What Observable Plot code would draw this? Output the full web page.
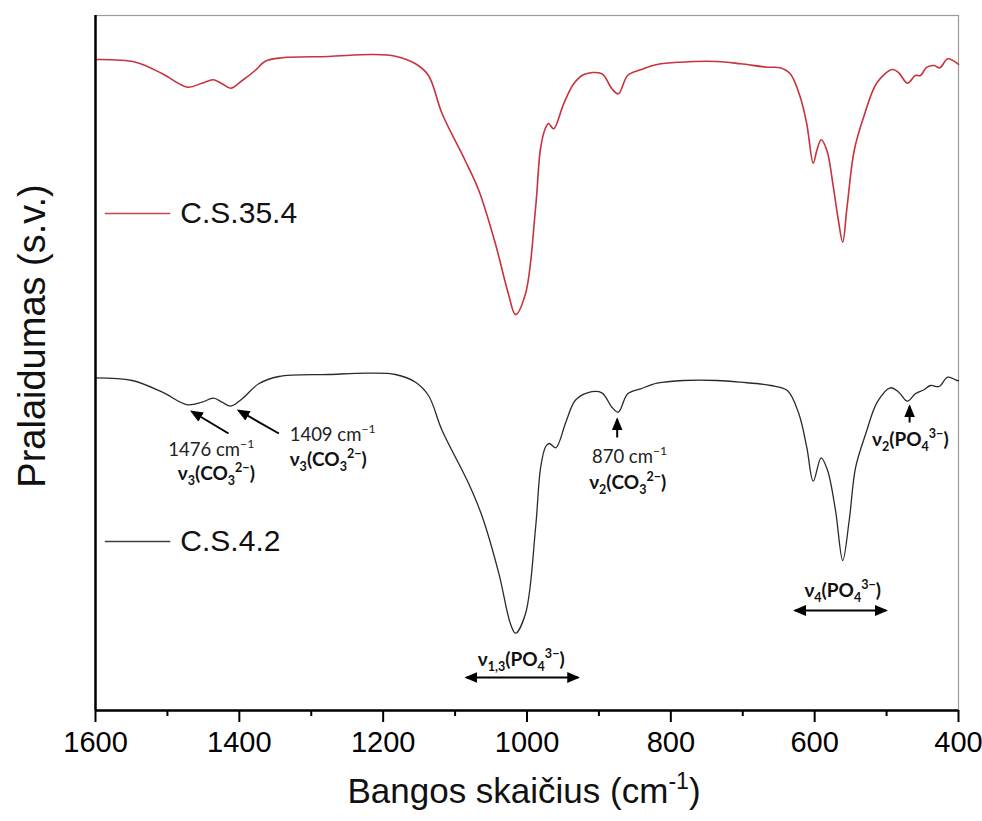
<!DOCTYPE html>
<html>
<head>
<meta charset="utf-8">
<script src="https://cdn.jsdelivr.net/npm/d3@7"></script>
<script src="https://cdn.jsdelivr.net/npm/@observablehq/plot@0.6"></script>
<style>
  html, body { margin: 0; padding: 0; background: #fff; }
  #chart { width: 982px; height: 821px; }
</style>
</head>
<body>
<div id="chart"></div>
<script>
// ---- Data (transmittance in arbitrary units) ----
const wnRed = [1600,1544,1507,1472,1452,1436,1424,1412,1396,1378,1364,1340,1276,1215,1183,1155,1137,1118,1086,1067,1044,1026,1016,1002,988,981,974,970,963,949,935,921,896,882,873,860,842,819,787,736,703,666,648,634,620,611,602,597,591,583,574,567,561,555,545,532,513,492,483,471,460,453,444,434,426,415,402,400];
const tRed  = [651,648.3,636.7,623.3,627.3,630.7,626.7,622.3,630,640,649.3,652.7,654,656,654.3,646.7,635,596.7,550,520,467,417,396,417,503,563,583,587,581.7,606.7,626.7,636,636.7,621.7,616.7,635,640.7,646,648.3,649,646.7,643.3,642.7,636.7,613.3,586.7,547.3,560,570.7,560,523.3,490,468.3,503.3,560,593.3,628.3,641,637.7,627.3,635,635,643.3,645,642.7,651.7,647.3,646];

const wnBlack = [1600,1549,1507,1472,1452,1436,1424,1412,1396,1373,1345,1276,1220,1183,1155,1137,1118,1081,1062,1039,1023,1016,1002,988,981,974,969,960,946,933,916,896,882,873,860,842,819,782,736,703,661,638,622,611,602,591,582,571,561,552,543,529,513,495,483,471,460,448,439,427,415,402,400];
const tBlack  = [332.7,330,318.3,305.7,308.3,312.3,308.3,304.3,311.7,326.7,334,336,337.3,336,328.3,315,280,226.7,193.3,136.7,86.7,77.3,97,183.3,243.3,264,267,262.7,288.3,310,317.7,317.7,303.3,298.3,316.7,321.7,327.3,330,330,328.3,325,320,296.7,263.3,229.3,252.7,240,200,150,190,243.3,276.7,308.3,322.7,318.3,309.3,316.7,320.7,325,324,333.3,330,330];

const seriesNames = ["C.S.35.4", "C.S.4.2"];
const xTicks = [1600, 1400, 1200, 1000, 800, 600, 400];
const xMinorTicks = [1500, 1300, 1100, 900, 700, 500];
const xLabel = "Bangos skaičius (cm^{-1})";
const yLabel = "Pralaidumas (s.v.)";

// legend (position in data space)
const legendWn = [1587, 1496];
const legendTextWn = 1482;
const legendT = [497, 169];

// annotations
const annoArrowFrom = [[1415, 277], [1345, 277], [874.6, 273], [468, 288]];
const annoArrowTo   = [[1466, 299], [1401, 300], [874.6, 291], [468, 304]];
const rangeArrows   = [[1084, 929, 33], [627, 501, 100]];
const annoText = [
  {wn: 1439, t: 255, s: "1476 cm^{−1}", bold: false, anchor: "middle"},
  {wn: 1432, t: 231, s: "ν_{3}(CO_{3}^{2−})", bold: true, anchor: "middle"},
  {wn: 1330, t: 270, s: "1409 cm^{−1}", bold: false, anchor: "start"},
  {wn: 1330, t: 245, s: "ν_{3}(CO_{3}^{2−})", bold: true, anchor: "start"},
  {wn: 857.5, t: 248, s: "870 cm^{−1}", bold: false, anchor: "middle"},
  {wn: 860, t: 222, s: "ν_{2}(CO_{3}^{2−})", bold: true, anchor: "middle"},
  {wn: 467, t: 265, s: "ν_{2}(PO_{4}^{3−})", bold: true, anchor: "middle"},
  {wn: 561, t: 114, s: "ν_{4}(PO_{4}^{3−})", bold: true, anchor: "middle"},
  {wn: 1008, t: 45, s: "ν_{1,3}(PO_{4}^{3−})", bold: true, anchor: "middle"}
];

// ---- Build tables ----
const red = wnRed.map((w, i) => ({wn: w, t: tRed[i]}));
const black = wnBlack.map((w, i) => ({wn: w, t: tBlack[i]}));
const arrows = annoArrowFrom.map((f, i) => ({x1: f[0], y1: f[1], x2: annoArrowTo[i][0], y2: annoArrowTo[i][1]}));
const ranges = rangeArrows.map(r => ({x1: r[0], x2: r[1], y: r[2]}));
const legend = seriesNames.map((n, i) => ({name: n, x1: legendWn[0], x2: legendWn[1], xt: legendTextWn, y: legendT[i]}));
const colors = ["#c8323c", "#2a2a2a"];

const AFONT = "Lato, 'Open Sans', sans-serif";
const SFONT = "'Liberation Sans', Arial, sans-serif";

const annoMarks = [];
for (const bold of [false, true]) {
  for (const anchor of ["middle", "start"]) {
    const rows = annoText.filter(d => d.bold === bold && d.anchor === anchor);
    if (!rows.length) continue;
    annoMarks.push(Plot.text(rows, {
      x: "wn", y: "t", text: "s", textAnchor: anchor, lineAnchor: "bottom",
      fontSize: bold ? 19 : 18.5, fontWeight: bold ? "bold" : "normal",
      fontFamily: AFONT, fill: bold ? "#111" : "#222"
    }));
  }
}

const plot = Plot.plot({
  width: 982,
  height: 821,
  marginLeft: 95,
  marginRight: 24,
  marginTop: 15,
  marginBottom: 111,
  style: {fontFamily: SFONT, background: "#fff", color: "#000"},
  x: {domain: [1600, 400], axis: null},
  y: {domain: [0, 695], axis: null},
  marks: [
    Plot.frame({stroke: "#9a9a9a", strokeWidth: 1.2}),
    Plot.line(red, {x: "wn", y: "t", stroke: colors[0], strokeWidth: 1.6, curve: "catmull-rom"}),
    Plot.line(black, {x: "wn", y: "t", stroke: colors[1], strokeWidth: 1.3, curve: "catmull-rom"}),
    // legend
    Plot.link(legend, {x1: "x1", x2: "x2", y1: "y", y2: "y", stroke: (d, i) => colors[i], strokeWidth: 1.3, strokeOpacity: 0.9}),
    Plot.text(legend, {x: "xt", y: "y", text: "name", textAnchor: "start", fontSize: 30, fill: "#111"}),
    // annotation arrows (distinguished by near-black stroke codes for marker post-processing)
    Plot.link(arrows, {x1: "x1", y1: "y1", x2: "x2", y2: "y2", stroke: "#000001", strokeWidth: 2}),
    Plot.link(ranges, {x1: "x1", x2: "x2", y1: "y", y2: "y", stroke: "#000002", strokeWidth: 2}),
    ...annoMarks,
    // axes
    Plot.ruleX([1600], {stroke: "#000", strokeWidth: 2.5}),
    Plot.ruleY([0], {stroke: "#000", strokeWidth: 2.5}),
    Plot.axisX(xTicks, {anchor: "bottom", tickSize: 12, tickPadding: 9, fontSize: 29, strokeWidth: 2, tickFormat: d => String(d), label: null}),
    Plot.axisX(xMinorTicks, {anchor: "bottom", tickSize: 6, strokeWidth: 2, tickFormat: () => "", label: null}),
    Plot.text([xLabel], {frameAnchor: "bottom", dy: 92, dx: -3, fontSize: 35, fill: "#111"}),
    Plot.text([yLabel], {frameAnchor: "left", textAnchor: "middle", rotate: -90, dx: -63, dy: -27, fontSize: 38, fill: "#111"})
  ]
});

document.getElementById("chart").appendChild(plot);

// ---- Post-process: sub/superscripts and filled arrowheads ----
const svg = d3.select(plot);

function richText(node) {
  const raw = node.textContent;
  if (!/[_^]\{/.test(raw)) return;
  const fs = parseFloat(getComputedStyle(node).fontSize) || 16;
  const parts = [];
  const re = /([_^])\{([^}]*)\}/g;
  let last = 0, m;
  while ((m = re.exec(raw))) {
    if (m.index > last) parts.push({k: "n", s: raw.slice(last, m.index)});
    parts.push({k: m[1] === "_" ? "sub" : "sup", s: m[2]});
    last = re.lastIndex;
  }
  if (last < raw.length) parts.push({k: "n", s: raw.slice(last)});
  node.textContent = "";
  let cur = 0;
  for (const p of parts) {
    const target = p.k === "sub" ? 0.28 * fs : p.k === "sup" ? -0.38 * fs : 0;
    const ts = d3.select(node).append("tspan").text(p.s).attr("dy", (target - cur) + "px");
    if (p.k !== "n") ts.attr("font-size", (0.66 * fs) + "px");
    cur = target;
  }
}
svg.selectAll("text").each(function() { richText(this); });

// arrowhead marker
const defs = svg.insert("defs", ":first-child");
defs.append("marker")
  .attr("id", "ahead")
  .attr("viewBox", "0 0 12 10")
  .attr("refX", 10).attr("refY", 5)
  .attr("markerUnits", "userSpaceOnUse")
  .attr("markerWidth", 13).attr("markerHeight", 11)
  .attr("orient", "auto-start-reverse")
  .append("path").attr("d", "M0,0L12,5L0,10Z").attr("fill", "#000");
svg.selectAll("path, line").each(function() {
  const el = d3.select(this);
  const s = (this.getAttribute("stroke") || (this.parentNode && this.parentNode.getAttribute && this.parentNode.getAttribute("stroke")) || "").toLowerCase();
  if (s === "#000001") el.attr("marker-end", "url(#ahead)");
  if (s === "#000002") el.attr("marker-end", "url(#ahead)").attr("marker-start", "url(#ahead)");
});
</script>
</body>
</html>
